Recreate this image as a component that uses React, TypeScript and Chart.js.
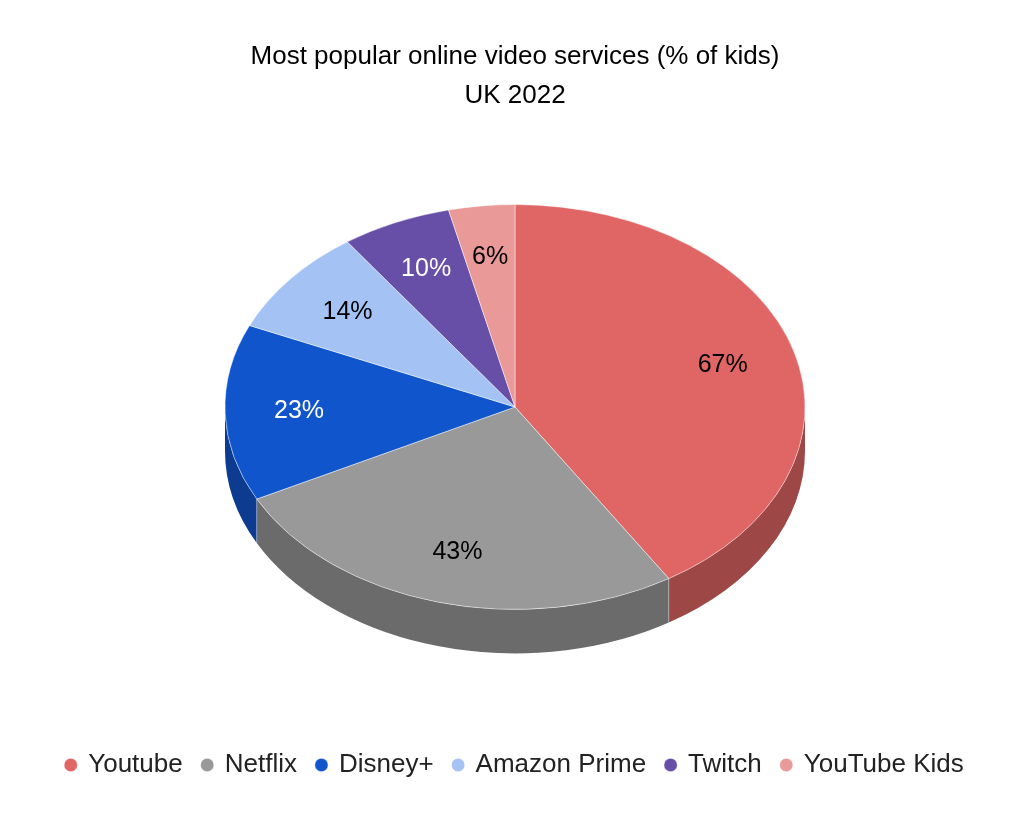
import { useEffect, useRef } from "react"
import { Chart, registerables } from "chart.js"

Chart.register(...registerables)

const services = ["Youtube", "Netflix", "Disney+", "Amazon Prime", "Twitch", "YouTube Kids"]
const shareOfKids = [67, 43, 23, 14, 10, 6]
const sliceColors = ["#e06666", "#999999", "#1155cc", "#a4c2f4", "#674ea7", "#ea9999"]
const labelColors = ["#000000", "#000000", "#ffffff", "#000000", "#ffffff", "#000000"]
const titleLines = ["Most popular online video services (% of kids)", "UK 2022"]

const FONT = "'Liberation Sans', Arial, sans-serif"
const TILT = 0.698 // vertical squash of the top face
const DEPTH = 44 // thickness of the pie in px

// darker shade for the side wall
function shade(hex: string, f = 0.7) {
  const n = parseInt(hex.slice(1), 16)
  const r = Math.round(((n >> 16) & 255) * f)
  const g = Math.round(((n >> 8) & 255) * f)
  const b = Math.round((n & 255) * f)
  return `rgb(${r},${g},${b})`
}

// draws the pie as a tilted disc: side walls, squashed top face, then the labels
const pie3d = {
  id: "pie3d",
  beforeDatasetsDraw(chart: Chart) {
    const meta = chart.getDatasetMeta(0)
    if (!meta.data.length) return
    const ctx = chart.ctx
    const first: any = meta.data[0]
    const cx = first.x
    const cy = first.y
    const r = first.outerRadius
    const top = cy - DEPTH / 2

    ctx.save()
    meta.data.forEach((el: any, i: number) => {
      const s = Math.max(el.startAngle, 0)
      const e = Math.min(el.endAngle, Math.PI)
      if (e <= s) return
      ctx.beginPath()
      ctx.ellipse(cx, top, r, r * TILT, 0, s, e)
      ctx.ellipse(cx, top + DEPTH, r, r * TILT, 0, e, s, true)
      ctx.closePath()
      ctx.fillStyle = shade(sliceColors[i])
      ctx.fill()
      if (el.startAngle > 0 && el.startAngle < Math.PI) {
        const x = cx + r * Math.cos(el.startAngle)
        const y = top + r * TILT * Math.sin(el.startAngle)
        ctx.beginPath()
        ctx.moveTo(x, y)
        ctx.lineTo(x, y + DEPTH)
        ctx.strokeStyle = "rgba(255,255,255,0.35)"
        ctx.lineWidth = 1
        ctx.stroke()
      }
    })
    ctx.restore()

    ctx.save()
    ctx.translate(0, top)
    ctx.scale(1, TILT)
    ctx.translate(0, -cy)
  },
  afterDatasetsDraw(chart: Chart) {
    const meta = chart.getDatasetMeta(0)
    if (!meta.data.length) return
    const ctx = chart.ctx
    ctx.restore()

    const first: any = meta.data[0]
    const cx = first.x
    const top = first.y - DEPTH / 2
    ctx.save()
    ctx.font = `25px ${FONT}`
    ctx.textAlign = "center"
    ctx.textBaseline = "middle"
    meta.data.forEach((el: any, i: number) => {
      const mid = (el.startAngle + el.endAngle) / 2
      const rr = el.outerRadius * 0.745
      ctx.fillStyle = labelColors[i]
      ctx.fillText(
        shareOfKids[i] + "%",
        cx + rr * Math.cos(mid),
        top + rr * TILT * Math.sin(mid)
      )
    })
    ctx.restore()
  },
}

export default function App() {
  const canvasRef = useRef<HTMLCanvasElement>(null)
  const chartRef = useRef<Chart | null>(null)

  useEffect(() => {
    if (!canvasRef.current) return
    if (chartRef.current) chartRef.current.destroy()

    chartRef.current = new Chart(canvasRef.current, {
      type: "pie",
      data: {
        labels: services,
        datasets: [
          {
            data: shareOfKids,
            backgroundColor: sliceColors,
            borderColor: "rgba(255,255,255,0.55)",
            borderWidth: 1,
            radius: 290,
            clip: false,
          } as any,
        ],
      },
      options: {
        animation: false,
        responsive: true,
        maintainAspectRatio: false,
        events: [],
        layout: { padding: { top: 0, bottom: 31, left: 0, right: 0 } },
        plugins: {
          tooltip: { enabled: false },
          title: {
            display: true,
            text: titleLines,
            color: "#000000",
            font: { family: FONT, size: 26, weight: "normal", lineHeight: 1.5 },
            padding: { top: 37.5, bottom: 10.5 },
          },
          legend: {
            position: "bottom",
            labels: {
              usePointStyle: true,
              pointStyle: "circle",
              boxWidth: 9,
              boxHeight: 9.5,
              padding: 20,
              color: "#222222",
              font: { family: FONT, size: 26 },
            },
          },
        },
      },
      plugins: [pie3d],
    })

    return () => {
      if (chartRef.current) {
        chartRef.current.destroy()
        chartRef.current = null
      }
    }
  }, [])

  return (
    <div
      style={{
        position: "absolute",
        left: 0,
        top: 0,
        width: 1030,
        height: 819,
        background: "#ffffff",
      }}
    >
      <canvas ref={canvasRef} />
    </div>
  )
}
